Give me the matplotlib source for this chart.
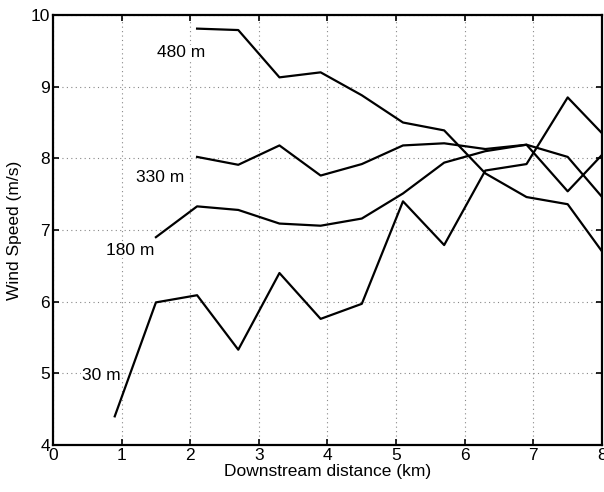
import matplotlib
matplotlib.use("Agg")
import matplotlib.pyplot as plt

plt.rcParams['font.family'] = ['Liberation Sans', 'DejaVu Sans']

# downstream distance (km) and wind speed (m/s) at each height
x_30 = [0.9, 1.5, 2.1, 2.7, 3.3, 3.9, 4.5, 5.1, 5.7, 6.3, 6.9, 7.5, 8.1]
ws_30 = [4.40, 5.99, 6.09, 5.33, 6.40, 5.76, 5.97, 7.40, 6.79, 7.83, 7.92, 8.85, 8.25]

x_180 = [1.5, 2.1, 2.7, 3.3, 3.9, 4.5, 5.1, 5.7, 6.3, 6.9, 7.5, 8.1]
ws_180 = [6.90, 7.33, 7.28, 7.09, 7.06, 7.16, 7.51, 7.94, 8.10, 8.19, 7.54, 8.15]

x_330 = [2.1, 2.7, 3.3, 3.9, 4.5, 5.1, 5.7, 6.3, 6.9, 7.5, 8.1]
ws_330 = [8.02, 7.91, 8.18, 7.76, 7.92, 8.18, 8.21, 8.13, 8.19, 8.02, 7.35]

x_480 = [2.1, 2.7, 3.3, 3.9, 4.5, 5.1, 5.7, 6.3, 6.9, 7.5, 8.1]
ws_480 = [9.81, 9.79, 9.13, 9.20, 8.88, 8.50, 8.39, 7.79, 7.46, 7.36, 6.57]

labels = ["30 m", "180 m", "330 m", "480 m"]
label_x = [0.70, 1.12, 1.56, 1.87]
label_y = [4.97, 6.72, 7.73, 9.47]

fig = plt.figure(figsize=(6.04, 4.92), dpi=100)
ax = fig.add_axes([0.0877, 0.0955, 0.909, 0.874])

for xs, ys in [(x_30, ws_30), (x_180, ws_180), (x_330, ws_330), (x_480, ws_480)]:
    ax.plot(xs, ys, color='black', linewidth=1.6)

for lab, lx, ly in zip(labels, label_x, label_y):
    ax.text(lx, ly, lab, ha='center', va='center', fontsize=12.5,
            bbox=dict(facecolor='white', edgecolor='none', pad=0.5))

ax.set_xlim(0, 8)
ax.set_ylim(4, 10)
ax.set_xticks(range(0, 9))
ax.set_yticks(range(4, 11))
ax.grid(True, linestyle=(0, (1, 3)), color='#888888', linewidth=0.8)
ax.tick_params(direction='in', top=True, right=True, length=4, width=1.2,
               labelsize=12.5, pad=2)
for s in ax.spines.values():
    s.set_linewidth(1.6)

ax.set_xlabel("Downstream distance (km)", fontsize=12.5, labelpad=1)
ax.set_ylabel("Wind Speed (m/s)", fontsize=12.5, labelpad=6)

fig.savefig("out.png", dpi=100)
